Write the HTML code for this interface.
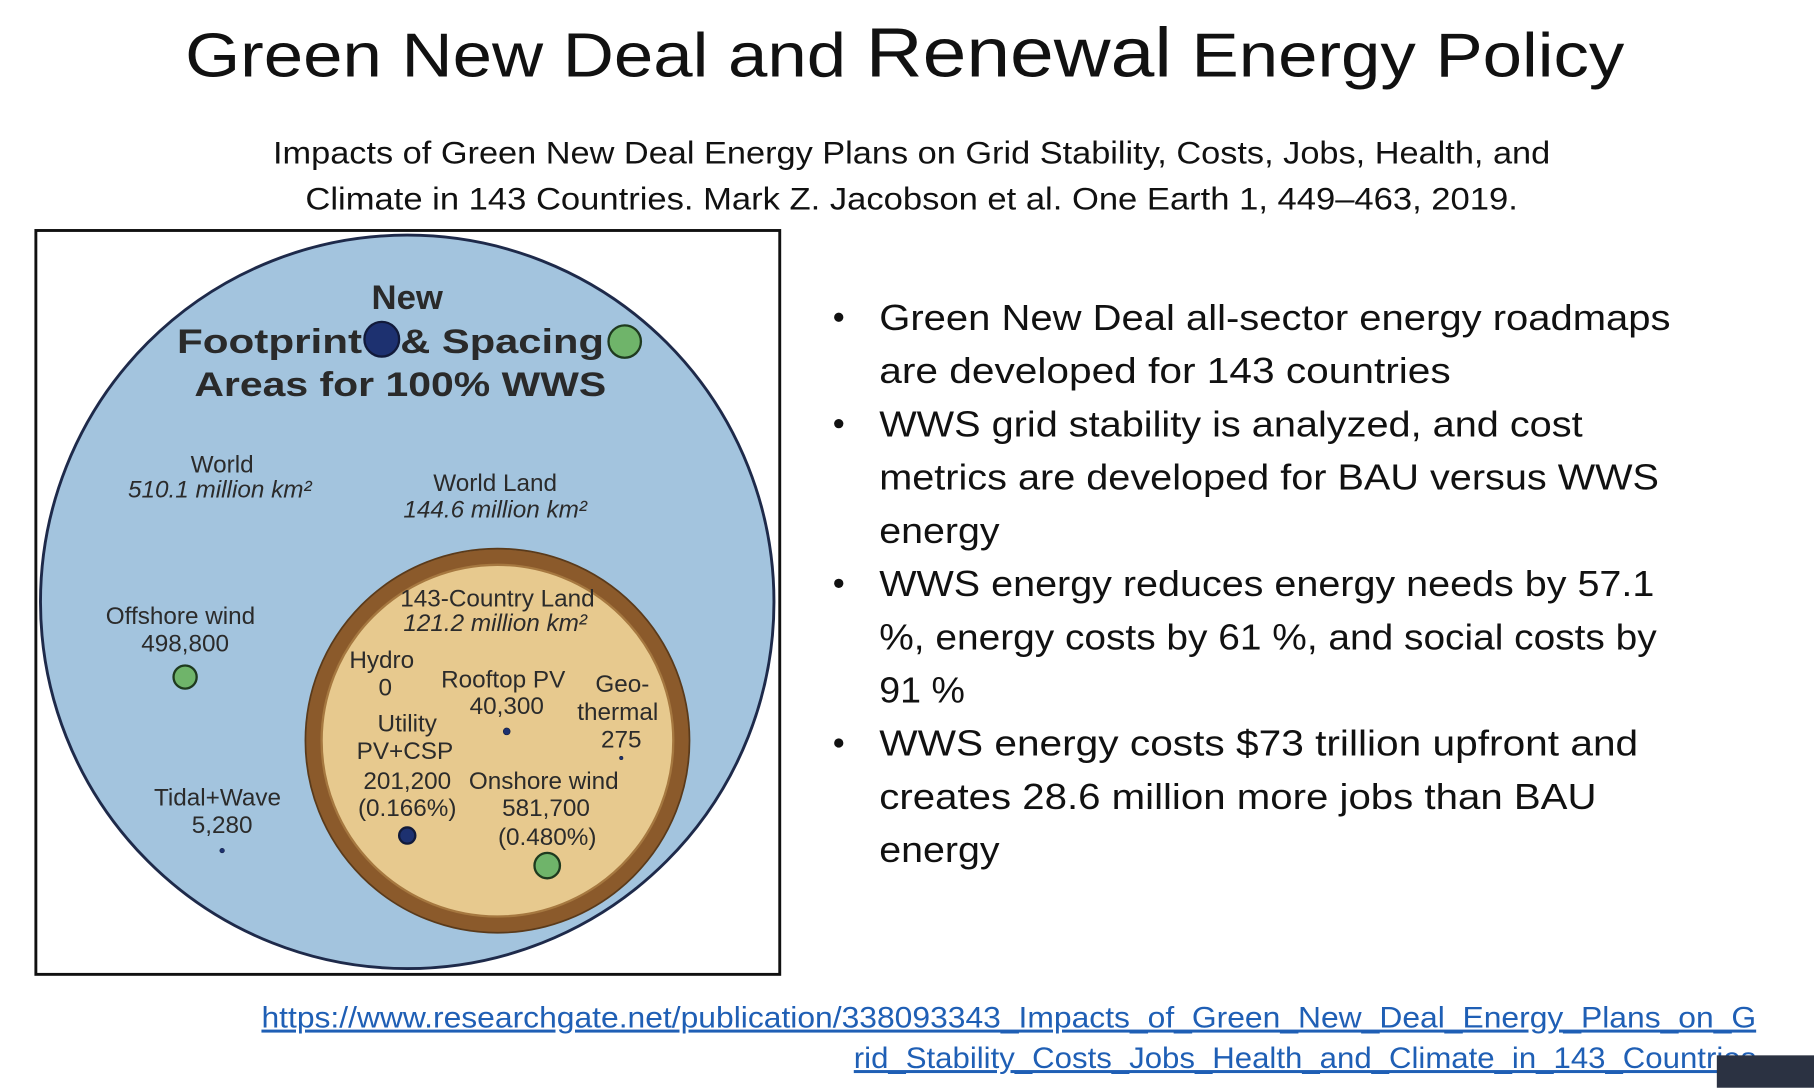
<!DOCTYPE html>
<html><head><meta charset="utf-8"><style>
html,body{margin:0;padding:0;background:#fff;width:1814px;height:1088px;overflow:hidden}
svg{display:block}
.t{font-family:"Liberation Sans",sans-serif;fill:#111}
.d{font-family:"Liberation Sans",sans-serif;fill:#2b2b2b;font-size:21px;text-anchor:middle}
.b{font-weight:bold;font-size:30px;fill:#2a2a2a}
.i{font-style:italic}
</style></head><body>
<svg id="page" width="1814" height="1088" viewBox="0 0 1568 940" xmlns="http://www.w3.org/2000/svg">
<text class="t" x="160" y="66" font-size="54" textLength="1244" lengthAdjust="spacingAndGlyphs">Green New Deal and <tspan font-size="60">Renewal</tspan> Energy Policy</text>
<text class="t" x="236" y="141" font-size="27" textLength="1104" lengthAdjust="spacingAndGlyphs">Impacts of Green New Deal Energy Plans on Grid Stability, Costs, Jobs, Health, and</text>
<text class="t" x="264" y="181" font-size="27" textLength="1048" lengthAdjust="spacingAndGlyphs">Climate in 143 Countries. Mark Z. Jacobson et al. One Earth 1, 449–463, 2019.</text>

<g>
<rect x="31" y="199" width="643" height="643" fill="#fff" stroke="#111" stroke-width="2.5"/>
<circle cx="352" cy="520" r="317" fill="#a3c4de" stroke="#1e2a4a" stroke-width="2.5"/>
<circle cx="430" cy="640" r="159" fill="#e7c98e" stroke="#8b5a2b" stroke-width="13"/>
<circle cx="430" cy="640" r="166" fill="none" stroke="#5a3a1a" stroke-width="1.5"/>
<circle cx="430" cy="640" r="152" fill="none" stroke="#a67840" stroke-width="2"/>
<text class="d b" x="352" y="267">New</text>
<text class="d b" x="153" y="305" style="text-anchor:start" textLength="160" lengthAdjust="spacingAndGlyphs">Footprint</text>
<text class="d b" x="346" y="305" style="text-anchor:start" textLength="176" lengthAdjust="spacingAndGlyphs">&amp; Spacing</text>
<text class="d b" x="168" y="342" style="text-anchor:start" textLength="356" lengthAdjust="spacingAndGlyphs">Areas for 100% WWS</text>
<text class="d" x="192" y="408">World</text>
<text class="d i" x="190" y="430">510.1 million km²</text>
<text class="d" x="428" y="424">World Land</text>
<text class="d i" x="428" y="447">144.6 million km²</text>
<text class="d" x="156" y="539">Offshore wind</text>
<text class="d" x="160" y="563">498,800</text>
<text class="d" x="188" y="696">Tidal+Wave</text>
<text class="d" x="192" y="720">5,280</text>
<text class="d" x="430" y="524">143-Country Land</text>
<text class="d i" x="428" y="545">121.2 million km²</text>
<text class="d" x="330" y="577">Hydro</text>
<text class="d" x="333" y="601">0</text>
<text class="d" x="435" y="594">Rooftop PV</text>
<text class="d" x="438" y="617">40,300</text>
<text class="d" x="538" y="598">Geo-</text>
<text class="d" x="534" y="622">thermal</text>
<text class="d" x="537" y="646">275</text>
<text class="d" x="352" y="632">Utility</text>
<text class="d" x="350" y="656">PV+CSP</text>
<text class="d" x="352" y="682">201,200</text>
<text class="d" x="352" y="705">(0.166%)</text>
<text class="d" x="470" y="682">Onshore wind</text>
<text class="d" x="472" y="705">581,700</text>
<text class="d" x="473" y="730">(0.480%)</text>
<g id="markers"></g>
</g>

<g class="t" font-size="31">
<g id="bullets"></g>
</g>

<a href="#">
<text class="t" x="226" y="888" font-size="26" style="fill:#1f5fb5" text-decoration="underline" textLength="1292" lengthAdjust="spacingAndGlyphs">https://www.researchgate.net/publication/338093343_Impacts_of_Green_New_Deal_Energy_Plans_on_G</text>
<text class="t" x="738" y="923" font-size="26" style="fill:#1f5fb5" text-decoration="underline" textLength="780" lengthAdjust="spacingAndGlyphs">rid_Stability_Costs_Jobs_Health_and_Climate_in_143_Countries</text>
</a>
<rect x="1484" y="912" width="84" height="28" fill="#2b3242"/>
</svg>
<script>
const markerX=[330,540,160,192,438,537,352,473];
const markerY=[293,295,585,735,632,655,722,748];
const markerR=[15,14,10,2,3,1.5,7,11];
const markerKind=['foot','space','space','foot','foot','foot','foot','space'];
const lines=["Green New Deal all-sector energy roadmaps","are developed for 143 countries","WWS grid stability is analyzed, and cost","metrics are developed for BAU versus WWS","energy","WWS energy reduces energy needs by 57.1","%, energy costs by 61 %, and social costs by","91 %","WWS energy costs $73 trillion upfront and","creates 28.6 million more jobs than BAU","energy"];
const lineWidths=[684,494,608,674,0,670,672,0,656,620,0];
const bulletStart=[true,false,true,false,false,true,false,false,true,false,false];
const NS="http://www.w3.org/2000/svg";
const mg=document.getElementById('markers');
markerX.forEach((x,i)=>{
  const c=document.createElementNS(NS,'circle');
  c.setAttribute('cx',x);c.setAttribute('cy',markerY[i]);c.setAttribute('r',markerR[i]);
  const f=markerKind[i]==='foot';
  c.setAttribute('fill',f?'#1d3170':'#6fb46a');
  c.setAttribute('stroke',f?'#111a3a':'#1f3a1f');
  c.setAttribute('stroke-width',markerR[i]>4?2:0.5);
  
  
  mg.appendChild(c);
});
const bg=document.getElementById('bullets');
lines.forEach((s,i)=>{
  const y=285+46*i;
  const t=document.createElementNS(NS,'text');
  t.setAttribute('x',760);t.setAttribute('y',y);t.textContent=s;
  if(lineWidths[i]){t.setAttribute('textLength',lineWidths[i]);t.setAttribute('lengthAdjust','spacingAndGlyphs');}
  else{t.setAttribute('textLength',s.length>4?104:74);t.setAttribute('lengthAdjust','spacingAndGlyphs');}
  
  
  bg.appendChild(t);
  if(bulletStart[i]){
    const d=document.createElementNS(NS,'circle');
    d.setAttribute('cx',725);d.setAttribute('cy',y-11);d.setAttribute('r',4);d.setAttribute('fill','#111');
    
    
    bg.appendChild(d);
  }
});
</script>
</body></html>
